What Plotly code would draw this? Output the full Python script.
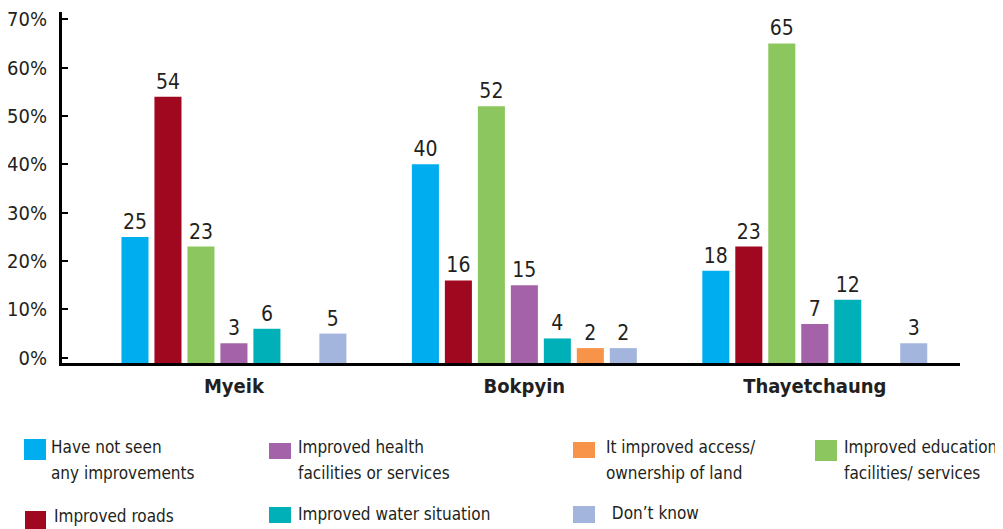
import plotly.graph_objects as go

# ---------------- data ----------------
categories = ["Myeik", "Bokpyin", "Thayetchaung"]

have_not_seen = [25, 40, 18]
improved_roads = [54, 16, 23]
improved_education = [23, 52, 65]
improved_health = [3, 15, 7]
improved_water = [6, 4, 12]
improved_land = [None, 2, None]
dont_know = [5, 2, 3]

series_names = [
    "Have not seen any improvements",
    "Improved roads",
    "Improved education facilities/ services",
    "Improved health facilities or services",
    "Improved water situation",
    "It improved access/ ownership of land",
    "Don’t know",
]
series_values = [have_not_seen, improved_roads, improved_education,
                 improved_health, improved_water, improved_land, dont_know]
series_colors = ["#00AEEF", "#A0081F", "#8BC75E", "#A462A8", "#00B0B9", "#F7944A", "#A3B5DC"]

legend_lines = [
    ["Have not seen", "any improvements"],
    ["Improved roads"],
    ["Improved education", "facilities/ services"],
    ["Improved health", "facilities or services"],
    ["Improved water situation"],
    ["It improved access/", "ownership of land"],
    [" Don’t know"],
]

y_tick_values = [0, 10, 20, 30, 40, 50, 60, 70]
y_tick_labels = ["0%", "10%", "20%", "30%", "40%", "50%", "60%", "70%"]

# ---------------- styling / layout ----------------
FONT = "DejaVu Sans Condensed, DejaVu Sans, sans-serif"
TXT = "#231F20"
PAGE_OFF = 8                      # default page margin around the figure
W, H = 1003 - PAGE_OFF, 529 - PAGE_OFF
ML, MT = 62 - PAGE_OFF, 12 - PAGE_OFF
MR = W - (960 - PAGE_OFF)
MB = H - (363 - PAGE_OFF)
Y_MIN, Y_MAX = -1.08, 71.5
LINE_GAP = 26

def px_x(px):
    return (px - PAGE_OFF - ML) / (W - ML - MR)

def px_y(py):
    return (H - MB - (py - PAGE_OFF)) / (H - MT - MB)

fig = go.Figure()
for name, vals, color in zip(series_names, series_values, series_colors):
    fig.add_trace(go.Bar(
        name=name,
        x=categories,
        y=[None if v is None else v - Y_MIN for v in vals],
        base=Y_MIN,
        marker=dict(color=color, line=dict(width=0)),
        text=["" if v is None else str(v) for v in vals],
        textposition="outside",
        textfont=dict(family=FONT, size=21, color=TXT),
        constraintext="none",
        cliponaxis=False,
        showlegend=False,
        hoverinfo="skip",
    ))

# manual legend (grid placement like the original)
legend_pos = {  # square x0,x1,y0,y1 ; text x, first-line centre y (page pixels)
    0: (24, 46, 439, 460, 50, 447),
    1: (25, 46, 511, 531, 53, 516),
    2: (815, 837, 440, 461, 843, 447),
    3: (269, 291, 443, 459, 297, 447),
    4: (269, 291, 507, 523, 297, 514),
    5: (573, 595, 442, 458, 605, 447),
    6: (573, 595, 506, 523, 606, 513),
}
shapes = []
annotations = []
for i, color in enumerate(series_colors):
    x0, x1, y0, y1, tx, ty = legend_pos[i]
    shapes.append(dict(type="rect", xref="paper", yref="paper",
                       x0=px_x(x0), x1=px_x(x1), y0=px_y(y1), y1=px_y(y0),
                       fillcolor=color, line=dict(width=0)))
    for k, line in enumerate(legend_lines[i]):
        annotations.append(dict(xref="paper", yref="paper",
                                x=px_x(tx), y=px_y(ty + k * LINE_GAP),
                                xanchor="left", yanchor="middle", align="left",
                                text=line, showarrow=False, borderpad=0,
                                font=dict(family=FONT, size=17, color=TXT)))

fig.update_layout(
    width=W, height=H,
    margin=dict(l=ML, r=MR, t=MT, b=MB, autoexpand=False),
    paper_bgcolor="white", plot_bgcolor="white",
    barmode="group", bargap=0.205, bargroupgap=0.18,
    showlegend=False,
    shapes=shapes, annotations=annotations,
    xaxis=dict(
        type="category", range=[-0.592, 2.5], automargin=False,
        showline=True, linewidth=3, linecolor="black",
        ticks="", showgrid=False, zeroline=False,
        tickfont=dict(family=FONT, size=20, color=TXT, weight="bold"),
        ticklabelstandoff=3,
    ),
    yaxis=dict(
        range=[Y_MIN, Y_MAX], automargin=False,
        tickvals=y_tick_values, ticktext=y_tick_labels,
        ticklabeloverflow="allow",
        showline=True, linewidth=3, linecolor="black",
        ticks="inside", ticklen=6, tickwidth=2, tickcolor="black",
        showgrid=False, zeroline=False,
        tickfont=dict(family=FONT, size=20, color=TXT),
        ticklabelstandoff=8,
    ),
)

fig.write_html("out.html")
